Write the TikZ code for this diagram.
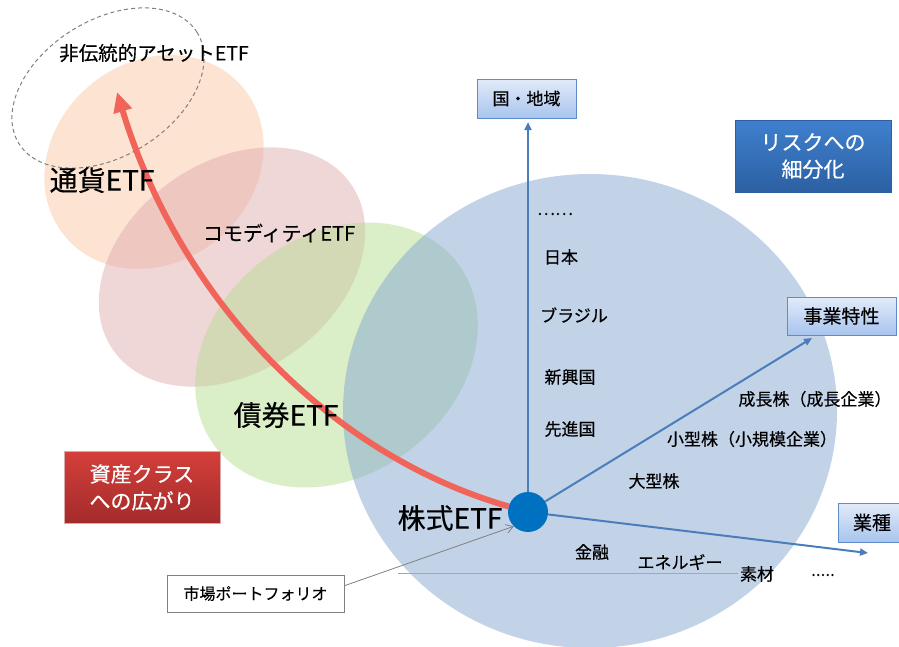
\documentclass[tikz,border=0pt]{standalone}
\usepackage{fontspec}
\setmainfont{Noto Sans CJK JP}[FakeBold=0.35]
\usetikzlibrary{arrows.meta,calc}
\definecolor{peach}{HTML}{F9C7A5}
\definecolor{pinkc}{HTML}{DFADAF}
\definecolor{greenc}{HTML}{B5DD91}
\definecolor{bluec}{HTML}{85A7D1}
\definecolor{axis}{HTML}{4A7EBB}
\definecolor{dotc}{HTML}{0070C0}
\definecolor{arrowred}{HTML}{F0645A}
\definecolor{lbtop}{HTML}{E2EBF9}
\definecolor{lbbot}{HTML}{A8C4EE}
\definecolor{lbline}{HTML}{5F8CCB}
\definecolor{rtop}{HTML}{D43F3A}
\definecolor{rbot}{HTML}{A32B2B}
\definecolor{btop}{HTML}{3F80CE}
\definecolor{bbot}{HTML}{2C60A2}
\definecolor{hline}{HTML}{8EAADB}
\begin{document}
\begin{tikzpicture}[x=1pt,y=1pt,
  blob/.style={fill opacity=0.5},
  axisline/.style={draw=axis, line width=2pt, -{Triangle[length=8pt,width=7pt]}},
  lbl/.style={inner sep=0pt, text=black, font=\fontsize{17}{20}\selectfont},
  biglbl/.style={inner sep=0pt, text=black, font=\fontsize{28}{32}\selectfont},
  midlbl/.style={inner sep=0pt, text=black, font=\fontsize{20}{24}\selectfont},
  lbox/.style={draw=lbline, line width=0.8pt, top color=lbtop, bottom color=lbbot, inner sep=0pt, text=black},
  tagbox/.style={inner sep=0pt, text=white, align=center, font=\fontsize{21}{27}\selectfont, minimum width=156pt, minimum height=72pt}
]
\useasboundingbox (0,0) rectangle (899,-646);
% overlapping asset-class ellipses
\fill[peach, blob, rotate around={40:(154,-162)}] (154,-162) ellipse [x radius=116, y radius=100];
\fill[pinkc, blob, rotate around={35:(232,-267)}] (232,-267) ellipse [x radius=145, y radius=105];
\fill[greenc, blob, rotate around={37:(336.5,-355)}] (336.5,-355) ellipse [x radius=152, y radius=120];
\fill[bluec, blob] (590,-411) ellipse [x radius=247, y radius=237];
\draw[gray, line width=1pt, dash pattern=on 4pt off 3pt, rotate around={32:(108,-88)}] (108,-88) ellipse [x radius=105, y radius=68];

% coordinates for free ends
\coordinate (tipN) at (528,-122);
\coordinate (tipB) at (812,-338);
\coordinate (tipG) at (868,-553);
\coordinate (tipR) at (117,-92);
\coordinate (hl1) at (398,-573);
\coordinate (hl2) at (738,-573);

\draw[hline, line width=0.8pt] (hl1) -- (hl2);

% central dot
\node[circle, fill=dotc, minimum size=40pt, inner sep=0pt] (dot) at (528,-512) {};

% axes
\draw[axisline] (dot) -- (tipN);
\draw[axisline] (dot) -- (tipB);
\draw[axisline] (dot) -- (tipG);

% red expansion arrow
\draw[arrowred, line width=6pt, -{Triangle[length=20pt,width=18pt]}]
  (dot) .. controls (330,-455) and (180,-300) .. (tipR);

% boxes
\node[lbox, minimum width=99pt, minimum height=39pt, font=\fontsize{17}{20}\selectfont] (country) at (526.5,-98.5) {国・地域};
\node[lbox, minimum width=109pt, minimum height=38pt, font=\fontsize{19}{22}\selectfont] (biz) at (841.5,-316) {事業特性};
\node[lbox, minimum width=68pt, minimum height=39pt, font=\fontsize{19}{22}\selectfont] (ind) at (872,-522.5) {業種};
\node[tagbox, draw=rbot!40!white, top color=rtop, bottom color=rbot] (red) at (142,-487.5) {資産クラス\\への広がり};
\node[tagbox, draw=bbot, top color=btop, bottom color=bbot] (blue) at (813,-156) {リスクへの\\細分化};
\node[draw=gray, line width=0.8pt, fill=white, minimum width=177pt, minimum height=37pt, inner sep=0pt, font=\fontsize{16}{20}\selectfont] (mkt) at (255.5,-593.5) {市場ポートフォリオ};
\draw[gray, line width=0.8pt, -{Straight Barb[length=7pt,width=9pt]}] (mkt.5) -- (dot.south west);

% asset class labels
\node[midlbl, font=\fontsize{19.5}{24}\selectfont] (alt) at (154,-53) {非伝統的アセットETF};
\node[biglbl] (cur) at (102,-180) {通貨ETF};
\node[midlbl] (com) at (279,-233) {コモディティETF};
\node[biglbl] (bond) at (286,-415) {債券ETF};
\node[biglbl] (eq) at (450,-518) {株式ETF};

% country axis labels
\node[lbl] (dots1) at (555,-214) {……};
\node[lbl] (jpn) at (561,-257) {日本};
\node[lbl] (bra) at (574,-315) {ブラジル};
\node[lbl] (emg) at (570,-377) {新興国};
\node[lbl] (dev) at (570,-429) {先進国};
% business axis labels
\node[lbl] (grow) at (815,-399) {成長株（成長企業）};
\node[lbl] (small) at (752,-439) {小型株（小規模企業）};
\node[lbl] (large) at (654,-481) {大型株};
% industry labels
\node[lbl] (fin) at (592,-552) {金融};
\node[lbl] (ene) at (680,-562) {エネルギー};
\node[lbl] (mat) at (757,-574) {素材};
\node[lbl] (dots2) at (823,-575) {.....};
\end{tikzpicture}
\end{document}
